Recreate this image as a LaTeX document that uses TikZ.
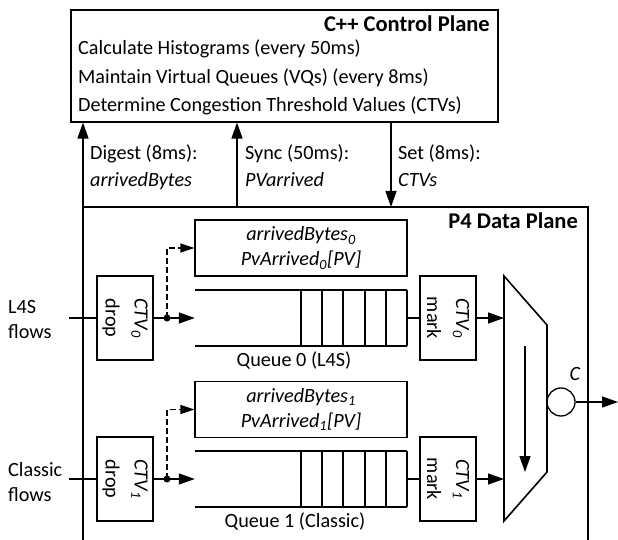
\documentclass[tikz,border=0pt]{standalone}
\usepackage{fontspec}
\setmainfont{Carlito}
\usetikzlibrary{arrows.meta}

\tikzset{
  box/.style={draw, line width=1.1pt, inner sep=0pt},
  arr/.style={-{Triangle[length=16pt,width=11pt]}, line width=1.3pt},
  darr/.style={-{Triangle[length=14pt,width=9pt]}, line width=1.3pt, dash pattern=on 6pt off 3pt},
  qline/.style={line width=2pt},
  txt/.style={inner sep=0pt},
  bold/.style={inner sep=0pt, font=\fontsize{22.5}{26}\selectfont\bfseries},
}

\begin{document}
\begin{tikzpicture}[x=1pt, y=-1pt, font=\fontsize{20.2}{25}\selectfont]
  \useasboundingbox (0,0) rectangle (618,540);
  % Control plane
  \node[box, minimum width=427, minimum height=112] (ctrl) at (284.5,66) {};
  \node[bold, anchor=base east] (ctrlT) at (490,32) {C++ Control Plane};
  \node[txt, anchor=base west] (hist) at (78,55) {Calculate Histograms (every 50ms)};
  \node[txt, anchor=base west] (vq) at (78,84) {Maintain Virtual Queues (VQs) (every 8ms)};
  \node[txt, anchor=base west] (ctv) at (78,112) {Determine Congestion Threshold Values (CTVs)};
  % Data plane (open at the bottom)
  \coordinate (dpNW) at (83,207);
  \coordinate (dpNE) at (588,207);
  \draw[line width=1.1pt] (83,540) -- (dpNW) -- (dpNE) -- (588,540);
  \node[bold, anchor=base east] (dpT) at (578,228) {P4 Data Plane};
  % Digest, sync and set between the planes
  \coordinate (sync) at (237,207);
  \coordinate (set) at (391,207);
  \draw[arr] (dpNW) -- (dpNW |- ctrl.south);
  \draw[arr] (sync) -- (sync |- ctrl.south);
  \draw[arr] (set |- ctrl.south) -- (set);
  \node[txt, anchor=base west] (digL) at (90,160) {Digest (8ms):};
  \node[txt, anchor=base west] (digV) at (90,186) {\itshape arrivedBytes};
  \node[txt, anchor=base west] (synL) at (245,160) {Sync (50ms):};
  \node[txt, anchor=base west] (synV) at (245,186) {\itshape PVarrived};
  \node[txt, anchor=base west] (setL) at (398,160) {Set (8ms):};
  \node[txt, anchor=base west] (setV) at (398,186) {\itshape CTVs};

  % Queue 0 (L4S)
  \node[box, minimum width=212, minimum height=56, align=center] (d0) at (301,248)
    {\itshape arrivedBytes\textsubscript{0}\\\itshape PvArrived\textsubscript{0}[PV]};
  \node[minimum width=212, minimum height=56, inner sep=0pt] (q0) at (301,318) {};
  \draw[qline] (q0.north west) -- (q0.north east) (q0.south west) -- (q0.south east);
  \foreach \x in {301,322.2,343.4,364.6,385.8,407}
    \draw[qline] (\x,290) -- (\x,346);
  \node[txt] (q0L) at (294,361) {Queue 0 (L4S)};
  \node[box, minimum width=56, minimum height=84] (drop0) at (125,318) {};
  \node[txt, rotate=-90, align=center] (drop0T) at (drop0) {{\itshape CTV\textsubscript{0}}\\[4pt]drop};
  \node[box, minimum width=56, minimum height=84] (mark0) at (448,318) {};
  \node[txt, rotate=-90, align=center] (mark0T) at (mark0) {{\itshape CTV\textsubscript{0}}\\[4pt]mark};
  \coordinate (in0) at (69,318);
  \node[txt, anchor=west, align=left] (l4s) at (8,320) {L4S\\flows};
  \draw[line width=1.1pt] (in0) -- (drop0.west);
  \draw[arr] (drop0.east) -- (q0.west);
  \node[circle, fill, inner sep=0pt, minimum size=7] (dot0) at (167,318) {};
  \draw[darr] (dot0.center) |- (d0.west);
  \draw[line width=1.1pt] (q0.east) -- (mark0.west);

  % Queue 1 (Classic)
  \node[box, minimum width=212, minimum height=56, align=center] (d1) at (301,409.5)
    {\itshape arrivedBytes\textsubscript{1}\\\itshape PvArrived\textsubscript{1}[PV]};
  \node[minimum width=212, minimum height=56, inner sep=0pt] (q1) at (301,479) {};
  \draw[qline] (q1.north west) -- (q1.north east) (q1.south west) -- (q1.south east);
  \foreach \x in {301,322.2,343.4,364.6,385.8,407}
    \draw[qline] (\x,451) -- (\x,507);
  \node[txt] (q1L) at (295,522) {Queue 1 (Classic)};
  \node[box, minimum width=56, minimum height=84] (drop1) at (125,479) {};
  \node[txt, rotate=-90, align=center] (drop1T) at (drop1) {{\itshape CTV\textsubscript{1}}\\[4pt]drop};
  \node[box, minimum width=56, minimum height=84] (mark1) at (448,479) {};
  \node[txt, rotate=-90, align=center] (mark1T) at (mark1) {{\itshape CTV\textsubscript{1}}\\[4pt]mark};
  \coordinate (in1) at (69,479);
  \node[txt, anchor=west, align=left] (cls) at (8,482) {Classic\\flows};
  \draw[line width=1.1pt] (in1) -- (drop1.west);
  \draw[arr] (drop1.east) -- (q1.west);
  \node[circle, fill, inner sep=0pt, minimum size=7] (dot1) at (167,479) {};
  \draw[darr] (dot1.center) |- (d1.west);
  \draw[line width=1.1pt] (q1.east) -- (mark1.west);

  % Scheduler
  \coordinate (muxTL) at (504,276);
  \coordinate (muxTR) at (547,325);
  \coordinate (muxBR) at (547,472);
  \coordinate (muxBL) at (504,521);
  \draw[line width=1.6pt] (muxTL) -- (muxTR) -- (muxBR) -- (muxBL) -- cycle;
  \coordinate (selA) at (525,346);
  \coordinate (selB) at (525,472);
  \draw[arr] (selA) -- (selB);
  \draw[arr] (mark0.east) -- (mark0.east -| muxTL);
  \draw[arr] (mark1.east) -- (mark1.east -| muxTL);
  % Link capacity
  \node[circle, draw, line width=1.3pt, minimum size=28, inner sep=0pt] (cap) at (561,402) {};
  \node[txt] (capL) at (575,374) {\itshape C};
  \coordinate (out) at (618,402);
  \draw[arr] (cap.east) -- (out);
\end{tikzpicture}
\end{document}
